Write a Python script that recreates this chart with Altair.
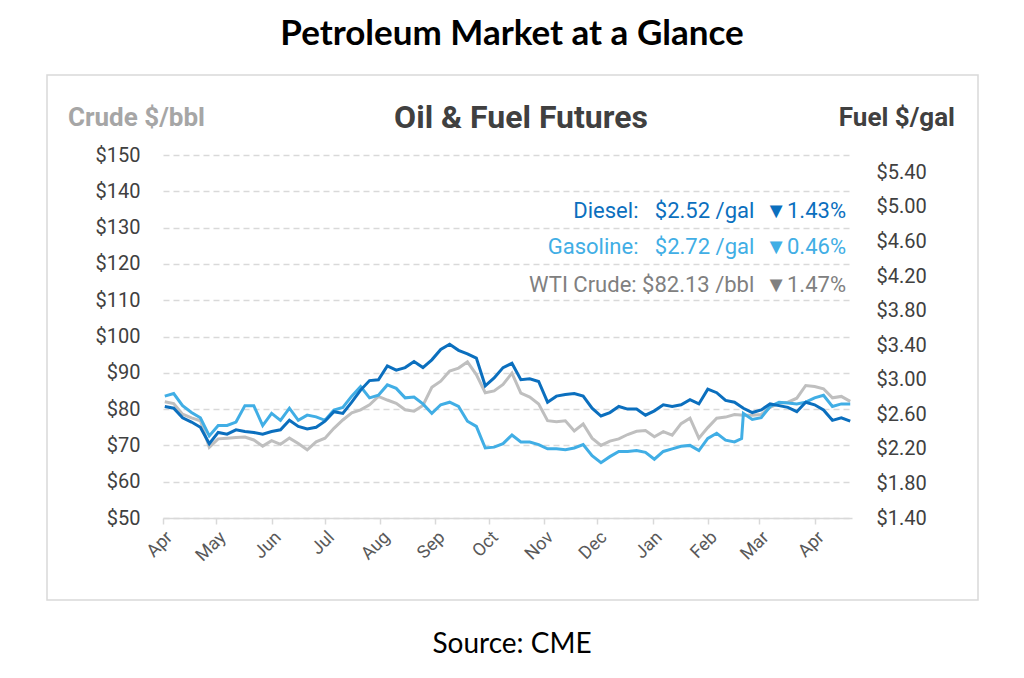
import altair as alt
import pandas as pd

start_date = "2023-04-02"
n_points = 78

crude = [82.0, 81.5, 78.6, 77.6, 76.8, 69.5, 71.8, 72.0, 72.2, 72.3,
         71.5, 69.8, 71.3, 70.3, 72.0, 70.5, 68.8, 71.0, 72.0, 74.7,
         77.0, 79.0, 79.8, 81.2, 83.5, 82.5, 81.6, 79.8, 79.4, 81.0,
         86.0, 87.7, 90.5, 91.3, 93.0, 89.5, 84.5, 85.0, 86.8, 89.9,
         84.4, 83.3, 81.4, 76.8, 76.5, 76.8, 74.0, 75.9, 72.0, 70.0,
         71.2, 71.8, 73.0, 73.9, 74.1, 72.4, 73.8, 72.8, 76.0, 77.5,
         72.0, 74.9, 77.5, 77.8, 78.5, 78.3, 78.3, 78.5, 80.5, 81.6,
         81.9, 83.0, 86.5, 86.2, 85.6, 83.1, 83.5, 82.13]

diesel = [2.69, 2.67, 2.56, 2.51, 2.45, 2.26, 2.39, 2.37, 2.42, 2.40,
          2.39, 2.37, 2.40, 2.42, 2.53, 2.46, 2.43, 2.45, 2.52, 2.63,
          2.61, 2.74, 2.88, 2.99, 3.00, 3.16, 3.11, 3.14, 3.21, 3.14,
          3.23, 3.35, 3.41, 3.34, 3.30, 3.25, 2.93, 3.02, 3.14, 3.19,
          3.00, 3.01, 2.98, 2.74, 2.81, 2.83, 2.84, 2.81, 2.67, 2.58,
          2.62, 2.69, 2.66, 2.66, 2.59, 2.64, 2.71, 2.69, 2.71, 2.77,
          2.72, 2.89, 2.85, 2.76, 2.74, 2.67, 2.62, 2.65, 2.72, 2.70,
          2.68, 2.63, 2.74, 2.71, 2.65, 2.53, 2.56, 2.52]

gasoline = [2.81, 2.84, 2.70, 2.62, 2.56, 2.35, 2.47, 2.47, 2.51, 2.70,
            2.70, 2.47, 2.61, 2.53, 2.67, 2.53, 2.59, 2.57, 2.53, 2.65,
            2.68, 2.81, 2.92, 2.79, 2.82, 2.94, 2.90, 2.79, 2.80, 2.72,
            2.61, 2.71, 2.74, 2.69, 2.52, 2.46, 2.21, 2.22, 2.26, 2.36,
            2.28, 2.28, 2.25, 2.20, 2.20, 2.19, 2.21, 2.25, 2.12, 2.04,
            2.11, 2.17, 2.17, 2.18, 2.16, 2.08, 2.17, 2.20, 2.23, 2.24,
            2.18, 2.32, 2.38, 2.30, 2.28, 2.61, 2.54, 2.56, 2.69, 2.74,
            2.73, 2.72, 2.74, 2.79, 2.82, 2.69, 2.72, 2.72]

# gasoline contract roll (summer grade) step
gas_step_dates = ["2024-02-20"]
gas_step_values = [2.32]

crude_ticks = [50, 60, 70, 80, 90, 100, 110, 120, 130, 140, 150]
fuel_ticks = [1.4, 1.8, 2.2, 2.6, 3.0, 3.4, 3.8, 4.2, 4.6, 5.0, 5.4]

legend_rows = [
    "Diesel:\u00a0\u00a0\u00a0$2.52\u00a0/gal\u00a0\u00a0\u25bc1.43%",
    "Gasoline:\u00a0\u00a0\u00a0$2.72\u00a0/gal\u00a0\u00a0\u25bc0.46%",
    "WTI Crude:\u00a0$82.13\u00a0/bbl\u00a0\u00a0\u25bc1.47%",
]
main_title = "Petroleum Market at a Glance"
panel_title = "Oil & Fuel Futures"
left_title = "Crude $/bbl"
right_title = "Fuel $/gal"
source_text = "Source: CME"

# ---- build tables ----
dates = pd.date_range(start_date, periods=n_points, freq="5D")
df_crude = pd.DataFrame({"date": dates, "value": crude})
df_diesel = pd.DataFrame({"date": dates, "value": diesel})
df_gas = pd.concat([
    pd.DataFrame({"date": dates, "value": gasoline}),
    pd.DataFrame({"date": pd.to_datetime(gas_step_dates), "value": gas_step_values}),
]).sort_values("date").reset_index(drop=True)

C_DIESEL = "#0B6FBE"
C_GAS = "#41AEE5"
C_CRUDE = "#BFBFBF"
FONT = "Roboto"

x_enc = alt.X(
    "date:T",
    scale=alt.Scale(domain=[alt.DateTime(year=2023, month=4, date=1),
                            alt.DateTime(year=2024, month=4, date=22)]),
    axis=alt.Axis(format="%b", tickCount=alt.TimeIntervalStep(interval="month", step=1),
                  labelAngle=-45, labelFont=FONT, labelFontSize=18, labelColor="#595959",
                  domainColor="#D9D9D9", domainWidth=1.5, tickColor="#D9D9D9", tickWidth=1.5,
                  tickSize=6, grid=False, title=None, labelPadding=4),
)

crude_line = alt.Chart(df_crude).mark_line(color=C_CRUDE, strokeWidth=3).encode(
    x=x_enc,
    y=alt.Y("value:Q", scale=alt.Scale(domain=[50, 150], nice=False, zero=False),
            axis=alt.Axis(values=crude_ticks, labelExpr="'$' + datum.value", orient="left",
                          domain=False, ticks=False, grid=True, gridColor="#D9D9D9",
                          gridDash=[6, 4], gridWidth=1.3, labelFont=FONT, labelFontSize=20,
                          labelColor="#404040", labelPadding=23, title=None)),
)

gas_line = alt.Chart(df_gas).mark_line(color=C_GAS, strokeWidth=3).encode(
    x=x_enc,
    y=alt.Y("value:Q", scale=alt.Scale(domain=[1.4, 5.6], nice=False, zero=False),
            axis=alt.Axis(values=fuel_ticks, format="$.2f", orient="right", domain=False,
                          ticks=False, grid=False, labelFont=FONT, labelFontSize=20,
                          labelColor="#404040", labelPadding=24, title=None)),
)

diesel_line = alt.Chart(df_diesel).mark_line(color=C_DIESEL, strokeWidth=3).encode(
    x=x_enc,
    y=alt.Y("value:Q", scale=alt.Scale(domain=[1.4, 5.6], nice=False, zero=False), axis=None),
)


def txt(label, x, y, size, color, weight="normal", align="center", font=FONT):
    return alt.Chart(pd.DataFrame({"t": [label]})).mark_text(
        font=font, fontSize=size, fontWeight=weight, color=color,
        align=align, baseline="middle",
    ).encode(x=alt.value(x), y=alt.value(y), text="t:N")


frame = alt.Chart(pd.DataFrame({"a": [0]})).mark_rect(
    fillOpacity=0, stroke="#D9D9D9", strokeWidth=1.5
).encode(x=alt.value(-116), x2=alt.value(815), y=alt.value(-80), y2=alt.value(445))

texts = [
    txt(main_title, 349, -121, 35, "#000000", "bold", font="Lato"),
    txt(panel_title, 358, -37, 32, "#404040", "bold"),
    txt(left_title, -95, -37, 26, "#A6A6A6", "bold", align="left"),
    txt(right_title, 792, -37, 26, "#404040", "bold", align="right"),
    txt(source_text, 349, 490, 28, "#000000", font="Lato"),
    txt(legend_rows[0], 683, 56, 22, C_DIESEL, align="right"),
    txt(legend_rows[1], 683, 92, 22, C_GAS, align="right"),
    txt(legend_rows[2], 683, 130, 22, "#808080", align="right"),
]

chart = alt.layer(
    frame, crude_line, gas_line, diesel_line, *texts
).resolve_scale(y="independent").properties(
    width=689, height=363,
    padding={"left": 155, "top": 147, "right": 164, "bottom": 152},
    autosize=alt.AutoSizeParams(type="none"),
    background="white",
).configure_view(stroke=None)

chart.save("out.html", embed_options={"renderer": "svg", "actions": False})
